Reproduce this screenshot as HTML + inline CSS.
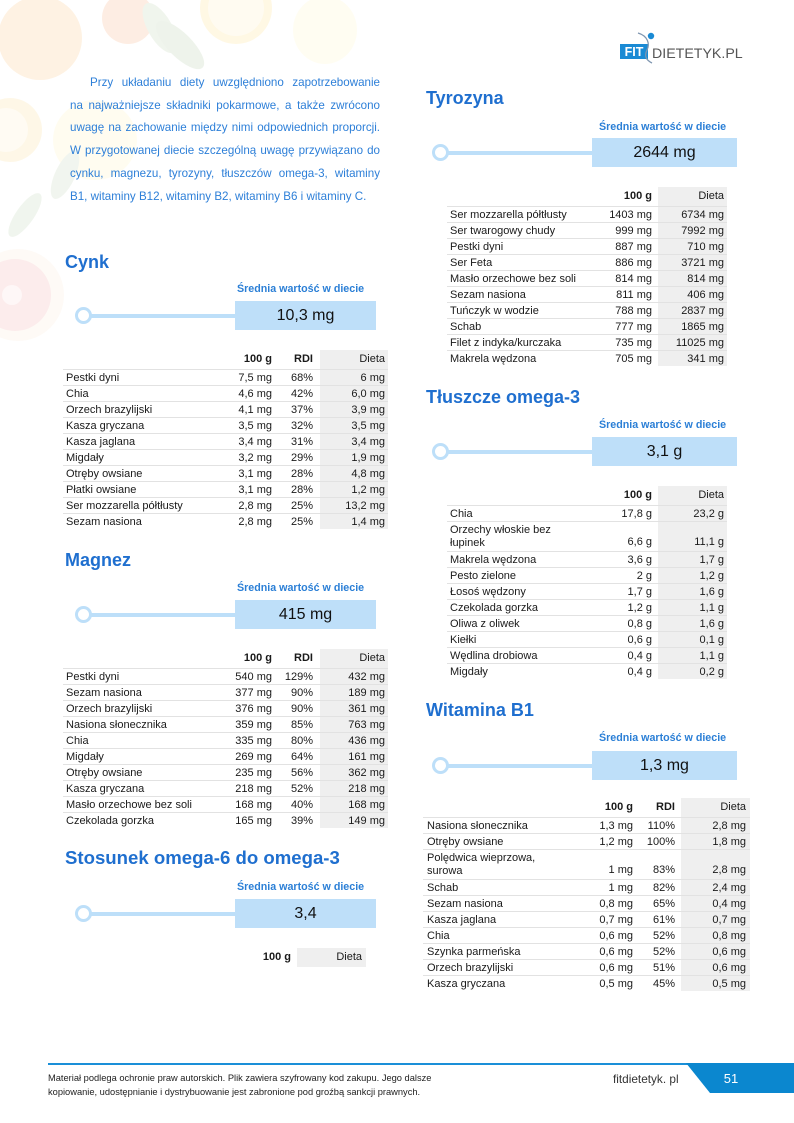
<!DOCTYPE html>
<html><head><meta charset="utf-8">
<style>
*{margin:0;padding:0;box-sizing:border-box}
html,body{width:794px;height:1123px;background:#fff;overflow:hidden}
body{position:relative;font-family:"Liberation Sans",sans-serif;color:#1a1a1a}
.a{position:absolute}
.h{position:absolute;font-weight:bold;font-size:18px;line-height:22px;color:#1f6fcf;white-space:nowrap}
.lab{position:absolute;font-weight:bold;font-size:10.7px;line-height:14px;color:#2b7fd6;white-space:nowrap}
.box{position:absolute;background:#bedff9;font-size:16px;color:#111;text-align:center;height:29px;line-height:30px}
.circ{position:absolute;width:17px;height:17px;border:3.5px solid #bddff9;border-radius:50%;background:#fff}
.ln{position:absolute;height:4px;background:#bddff9}
.tbl{position:absolute;font-size:11px}
.gray{position:absolute;top:0;bottom:0;background:#efefef}
.r{position:relative;height:16px;line-height:16px;border-top:1px solid #e2e2e2;white-space:nowrap}
.r.hd{border-top:none;height:19px;line-height:19px}
.r.two{height:30px;line-height:13px;padding-top:2px}
.r span{position:absolute}
.r.two span.v{bottom:2px}
.b{font-weight:bold}
.intro{position:absolute;left:70px;width:310px;font-size:11.6px;line-height:16px;height:16px;color:#2d7fd8;text-align:justify;text-align-last:justify;white-space:nowrap}
</style></head><body>

<!-- faded fruit background -->
<svg class="a" style="left:0;top:0" width="420" height="360">
  <g opacity="0.45">
  <circle cx="40" cy="38" r="42" fill="#fde3c2"/>
  <circle cx="128" cy="18" r="26" fill="#fcd9c3"/>
  <circle cx="236" cy="8" r="36" fill="#fff0c4"/>
  <circle cx="236" cy="8" r="28" fill="#fff8e2"/>
  <ellipse cx="325" cy="30" rx="32" ry="34" fill="#fffbe4"/>
  <circle cx="10" cy="130" r="32" fill="#fdefcc"/>
  <circle cx="6" cy="130" r="22" fill="#fff8e6"/>
  <ellipse cx="95" cy="140" rx="42" ry="40" fill="#fffae0"/>
  <ellipse cx="160" cy="28" rx="12" ry="28" transform="rotate(-30 160 28)" fill="#dfe9d9"/>
  <ellipse cx="180" cy="45" rx="12" ry="32" transform="rotate(-45 180 45)" fill="#dbe6d5"/>
  <ellipse cx="65" cy="175" rx="10" ry="26" transform="rotate(25 65 175)" fill="#e2ebdc"/>
  <ellipse cx="25" cy="215" rx="9" ry="26" transform="rotate(35 25 215)" fill="#e0e9da"/>
  <circle cx="18" cy="295" r="46" fill="#fdf5ec"/>
  <circle cx="15" cy="295" r="36" fill="#fad6d6"/>
  <circle cx="12" cy="295" r="10" fill="#fdeeee"/>
  </g>
</svg>

<!-- logo -->
<svg class="a" style="left:0;top:0" width="794" height="80">
  <rect x="620" y="44" width="28" height="15" fill="#1a8ad4"/>
  <text x="634" y="56" font-family="Liberation Sans" font-weight="bold" font-size="12.5" fill="#fff" text-anchor="middle">FIT</text>
  <path d="M638 33 C648 36 650 44 647 50 C644 56 646 60 652 63" stroke="#7f96b0" stroke-width="1.3" fill="none"/>
  <circle cx="651" cy="36" r="3.2" fill="#1a8ad4"/>
  <text x="652" y="58" font-family="Liberation Sans" font-size="14.2" fill="#555">DIETETYK.PL</text>
</svg>

<!-- intro -->
<div class="intro" style="top:75px;left:90px;width:290px">Przy układaniu diety uwzględniono zapotrzebowanie</div>
<div class="intro" style="top:98px">na najważniejsze składniki pokarmowe, a także zwrócono</div>
<div class="intro" style="top:120px">uwagę na zachowanie między nimi odpowiednich proporcji.</div>
<div class="intro" style="top:143px">W przygotowanej diecie szczególną uwagę przywiązano do</div>
<div class="intro" style="top:166px">cynku, magnezu, tyrozyny, tłuszczów omega-3, witaminy</div>
<div class="intro" style="top:189px;text-align-last:left">B1, witaminy B12, witaminy B2, witaminy B6 i witaminy C.</div>

<!-- CYNK -->
<div class="h" style="left:65px;top:251px">Cynk</div>
<div class="lab" style="left:237px;top:282px">Średnia wartość w diecie</div>
<div class="ln" style="left:91px;top:314px;width:145px"></div>
<div class="circ" style="left:75px;top:307px"></div>
<div class="box" style="left:235px;top:301px;width:141px">10,3 mg</div>
<div class="tbl" style="left:63px;top:350px;width:325px">
  <div class="gray" style="left:257px;width:68px"></div>
  <div class="r hd"><span style="right:116px" class="b">100 g</span><span style="right:75px" class="b">RDI</span><span style="right:3px">Dieta</span></div>
  <div class="r"><span style="left:3px">Pestki dyni</span><span style="right:116px">7,5 mg</span><span style="right:75px">68%</span><span style="right:3px">6 mg</span></div>
  <div class="r"><span style="left:3px">Chia</span><span style="right:116px">4,6 mg</span><span style="right:75px">42%</span><span style="right:3px">6,0 mg</span></div>
  <div class="r"><span style="left:3px">Orzech brazylijski</span><span style="right:116px">4,1 mg</span><span style="right:75px">37%</span><span style="right:3px">3,9 mg</span></div>
  <div class="r"><span style="left:3px">Kasza gryczana</span><span style="right:116px">3,5 mg</span><span style="right:75px">32%</span><span style="right:3px">3,5 mg</span></div>
  <div class="r"><span style="left:3px">Kasza jaglana</span><span style="right:116px">3,4 mg</span><span style="right:75px">31%</span><span style="right:3px">3,4 mg</span></div>
  <div class="r"><span style="left:3px">Migdały</span><span style="right:116px">3,2 mg</span><span style="right:75px">29%</span><span style="right:3px">1,9 mg</span></div>
  <div class="r"><span style="left:3px">Otręby owsiane</span><span style="right:116px">3,1 mg</span><span style="right:75px">28%</span><span style="right:3px">4,8 mg</span></div>
  <div class="r"><span style="left:3px">Płatki owsiane</span><span style="right:116px">3,1 mg</span><span style="right:75px">28%</span><span style="right:3px">1,2 mg</span></div>
  <div class="r"><span style="left:3px">Ser mozzarella półtłusty</span><span style="right:116px">2,8 mg</span><span style="right:75px">25%</span><span style="right:3px">13,2 mg</span></div>
  <div class="r"><span style="left:3px">Sezam nasiona</span><span style="right:116px">2,8 mg</span><span style="right:75px">25%</span><span style="right:3px">1,4 mg</span></div>
</div>

<!-- MAGNEZ -->
<div class="h" style="left:65px;top:549px">Magnez</div>
<div class="lab" style="left:237px;top:581px">Średnia wartość w diecie</div>
<div class="ln" style="left:91px;top:613px;width:145px"></div>
<div class="circ" style="left:75px;top:606px"></div>
<div class="box" style="left:235px;top:600px;width:141px">415 mg</div>
<div class="tbl" style="left:63px;top:649px;width:325px">
  <div class="gray" style="left:257px;width:68px"></div>
  <div class="r hd"><span style="right:116px" class="b">100 g</span><span style="right:75px" class="b">RDI</span><span style="right:3px">Dieta</span></div>
  <div class="r"><span style="left:3px">Pestki dyni</span><span style="right:116px">540 mg</span><span style="right:75px">129%</span><span style="right:3px">432 mg</span></div>
  <div class="r"><span style="left:3px">Sezam nasiona</span><span style="right:116px">377 mg</span><span style="right:75px">90%</span><span style="right:3px">189 mg</span></div>
  <div class="r"><span style="left:3px">Orzech brazylijski</span><span style="right:116px">376 mg</span><span style="right:75px">90%</span><span style="right:3px">361 mg</span></div>
  <div class="r"><span style="left:3px">Nasiona słonecznika</span><span style="right:116px">359 mg</span><span style="right:75px">85%</span><span style="right:3px">763 mg</span></div>
  <div class="r"><span style="left:3px">Chia</span><span style="right:116px">335 mg</span><span style="right:75px">80%</span><span style="right:3px">436 mg</span></div>
  <div class="r"><span style="left:3px">Migdały</span><span style="right:116px">269 mg</span><span style="right:75px">64%</span><span style="right:3px">161 mg</span></div>
  <div class="r"><span style="left:3px">Otręby owsiane</span><span style="right:116px">235 mg</span><span style="right:75px">56%</span><span style="right:3px">362 mg</span></div>
  <div class="r"><span style="left:3px">Kasza gryczana</span><span style="right:116px">218 mg</span><span style="right:75px">52%</span><span style="right:3px">218 mg</span></div>
  <div class="r"><span style="left:3px">Masło orzechowe bez soli</span><span style="right:116px">168 mg</span><span style="right:75px">40%</span><span style="right:3px">168 mg</span></div>
  <div class="r"><span style="left:3px">Czekolada gorzka</span><span style="right:116px">165 mg</span><span style="right:75px">39%</span><span style="right:3px">149 mg</span></div>
</div>

<!-- STOSUNEK -->
<div class="h" style="left:65px;top:847px;font-size:18.6px">Stosunek omega-6 do omega-3</div>
<div class="lab" style="left:237px;top:880px">Średnia wartość w diecie</div>
<div class="ln" style="left:91px;top:912px;width:145px"></div>
<div class="circ" style="left:75px;top:905px"></div>
<div class="box" style="left:235px;top:899px;width:141px">3,4</div>
<div class="a" style="left:297px;top:948px;width:69px;height:19px;background:#efefef"></div>
<div class="a b" style="left:200px;top:948px;width:91px;text-align:right;font-size:11px;line-height:19px">100 g</div>
<div class="a" style="left:297px;top:948px;width:65px;text-align:right;font-size:11px;line-height:19px">Dieta</div>

<!-- TYROZYNA -->
<div class="h" style="left:426px;top:87px">Tyrozyna</div>
<div class="lab" style="left:599px;top:120px">Średnia wartość w diecie</div>
<div class="ln" style="left:448px;top:151px;width:145px"></div>
<div class="circ" style="left:432px;top:144px"></div>
<div class="box" style="left:592px;top:138px;width:145px">2644 mg</div>
<div class="tbl" style="left:447px;top:187px;width:280px">
  <div class="gray" style="left:211px;width:69px"></div>
  <div class="r hd"><span style="right:75px" class="b">100 g</span><span style="right:3px">Dieta</span></div>
  <div class="r"><span style="left:3px">Ser mozzarella półtłusty</span><span style="right:75px">1403 mg</span><span style="right:3px">6734 mg</span></div>
  <div class="r"><span style="left:3px">Ser twarogowy chudy</span><span style="right:75px">999 mg</span><span style="right:3px">7992 mg</span></div>
  <div class="r"><span style="left:3px">Pestki dyni</span><span style="right:75px">887 mg</span><span style="right:3px">710 mg</span></div>
  <div class="r"><span style="left:3px">Ser Feta</span><span style="right:75px">886 mg</span><span style="right:3px">3721 mg</span></div>
  <div class="r"><span style="left:3px">Masło orzechowe bez soli</span><span style="right:75px">814 mg</span><span style="right:3px">814 mg</span></div>
  <div class="r"><span style="left:3px">Sezam nasiona</span><span style="right:75px">811 mg</span><span style="right:3px">406 mg</span></div>
  <div class="r"><span style="left:3px">Tuńczyk w wodzie</span><span style="right:75px">788 mg</span><span style="right:3px">2837 mg</span></div>
  <div class="r"><span style="left:3px">Schab</span><span style="right:75px">777 mg</span><span style="right:3px">1865 mg</span></div>
  <div class="r"><span style="left:3px">Filet z indyka/kurczaka</span><span style="right:75px">735 mg</span><span style="right:3px">11025 mg</span></div>
  <div class="r"><span style="left:3px">Makrela wędzona</span><span style="right:75px">705 mg</span><span style="right:3px">341 mg</span></div>
</div>

<!-- OMEGA-3 -->
<div class="h" style="left:426px;top:386px">Tłuszcze omega-3</div>
<div class="lab" style="left:599px;top:418px">Średnia wartość w diecie</div>
<div class="ln" style="left:448px;top:450px;width:145px"></div>
<div class="circ" style="left:432px;top:443px"></div>
<div class="box" style="left:592px;top:437px;width:145px">3,1 g</div>
<div class="tbl" style="left:447px;top:486px;width:280px">
  <div class="gray" style="left:211px;width:69px"></div>
  <div class="r hd"><span style="right:75px" class="b">100 g</span><span style="right:3px">Dieta</span></div>
  <div class="r"><span style="left:3px">Chia</span><span style="right:75px">17,8 g</span><span style="right:3px">23,2 g</span></div>
  <div class="r two"><span style="left:3px;top:2px">Orzechy włoskie bez<br>łupinek</span><span class="v" style="right:75px">6,6 g</span><span class="v" style="right:3px">11,1 g</span></div>
  <div class="r"><span style="left:3px">Makrela wędzona</span><span style="right:75px">3,6 g</span><span style="right:3px">1,7 g</span></div>
  <div class="r"><span style="left:3px">Pesto zielone</span><span style="right:75px">2 g</span><span style="right:3px">1,2 g</span></div>
  <div class="r"><span style="left:3px">Łosoś wędzony</span><span style="right:75px">1,7 g</span><span style="right:3px">1,6 g</span></div>
  <div class="r"><span style="left:3px">Czekolada gorzka</span><span style="right:75px">1,2 g</span><span style="right:3px">1,1 g</span></div>
  <div class="r"><span style="left:3px">Oliwa z oliwek</span><span style="right:75px">0,8 g</span><span style="right:3px">1,6 g</span></div>
  <div class="r"><span style="left:3px">Kiełki</span><span style="right:75px">0,6 g</span><span style="right:3px">0,1 g</span></div>
  <div class="r"><span style="left:3px">Wędlina drobiowa</span><span style="right:75px">0,4 g</span><span style="right:3px">1,1 g</span></div>
  <div class="r"><span style="left:3px">Migdały</span><span style="right:75px">0,4 g</span><span style="right:3px">0,2 g</span></div>
</div>

<!-- WITAMINA B1 -->
<div class="h" style="left:426px;top:699px">Witamina B1</div>
<div class="lab" style="left:599px;top:731px">Średnia wartość w diecie</div>
<div class="ln" style="left:448px;top:764px;width:145px"></div>
<div class="circ" style="left:432px;top:757px"></div>
<div class="box" style="left:592px;top:751px;width:145px">1,3 mg</div>
<div class="tbl" style="left:423px;top:798px;width:327px">
  <div class="gray" style="left:258px;width:69px"></div>
  <div class="r hd"><span style="right:117px" class="b">100 g</span><span style="right:75px" class="b">RDI</span><span style="right:4px">Dieta</span></div>
  <div class="r"><span style="left:4px">Nasiona słonecznika</span><span style="right:117px">1,3 mg</span><span style="right:75px">110%</span><span style="right:4px">2,8 mg</span></div>
  <div class="r"><span style="left:4px">Otręby owsiane</span><span style="right:117px">1,2 mg</span><span style="right:75px">100%</span><span style="right:4px">1,8 mg</span></div>
  <div class="r two"><span style="left:4px;top:2px">Polędwica wieprzowa,<br>surowa</span><span class="v" style="right:117px">1 mg</span><span class="v" style="right:75px">83%</span><span class="v" style="right:4px">2,8 mg</span></div>
  <div class="r"><span style="left:4px">Schab</span><span style="right:117px">1 mg</span><span style="right:75px">82%</span><span style="right:4px">2,4 mg</span></div>
  <div class="r"><span style="left:4px">Sezam nasiona</span><span style="right:117px">0,8 mg</span><span style="right:75px">65%</span><span style="right:4px">0,4 mg</span></div>
  <div class="r"><span style="left:4px">Kasza jaglana</span><span style="right:117px">0,7 mg</span><span style="right:75px">61%</span><span style="right:4px">0,7 mg</span></div>
  <div class="r"><span style="left:4px">Chia</span><span style="right:117px">0,6 mg</span><span style="right:75px">52%</span><span style="right:4px">0,8 mg</span></div>
  <div class="r"><span style="left:4px">Szynka parmeńska</span><span style="right:117px">0,6 mg</span><span style="right:75px">52%</span><span style="right:4px">0,6 mg</span></div>
  <div class="r"><span style="left:4px">Orzech brazylijski</span><span style="right:117px">0,6 mg</span><span style="right:75px">51%</span><span style="right:4px">0,6 mg</span></div>
  <div class="r"><span style="left:4px">Kasza gryczana</span><span style="right:117px">0,5 mg</span><span style="right:75px">45%</span><span style="right:4px">0,5 mg</span></div>
</div>

<!-- FOOTER -->
<div class="a" style="left:48px;top:1063px;width:640px;height:2px;background:#1a8fd8"></div>
<svg class="a" style="left:680px;top:1063px" width="114" height="31">
  <polygon points="6,0 114,0 114,30 30,30" fill="#0b87cf"/>
  <text x="51" y="20" font-family="Liberation Sans" font-size="13" fill="#fff" text-anchor="middle">51</text>
</svg>
<div class="a" style="left:613px;top:1071px;font-size:11.8px;line-height:16px;color:#333;white-space:nowrap">fitdietetyk. pl</div>
<div class="a" style="left:48px;top:1072px;font-size:9.3px;line-height:13.5px;color:#222;white-space:nowrap">Materiał podlega ochronie praw autorskich. Plik zawiera szyfrowany kod zakupu. Jego dalsze<br>kopiowanie, udostępnianie i dystrybuowanie jest zabronione pod groźbą sankcji prawnych.</div>

</body></html>
